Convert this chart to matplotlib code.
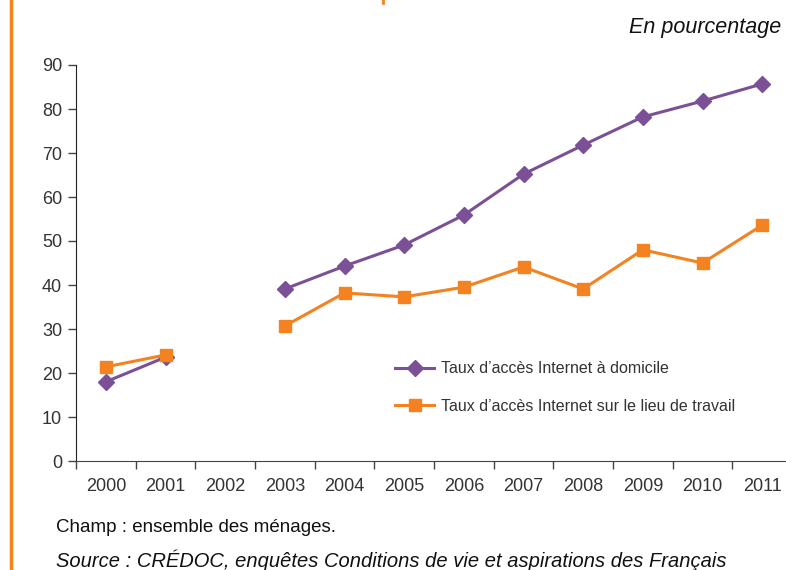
import numpy as np
import matplotlib.pyplot as plt

plt.rcParams['font.family'] = ['Liberation Sans', 'DejaVu Sans']

years = ['2000', '2001', '2002', '2003', '2004', '2005', '2006', '2007', '2008', '2009', '2010', '2011']
domicile = [18.0, 23.6, np.nan, 39.1, 44.3, 49.1, 55.9, 65.2, 71.8, 78.2, 81.8, 85.7]
travail = [21.4, 24.1, np.nan, 30.7, 38.2, 37.3, 39.5, 44.1, 39.1, 48.0, 45.0, 53.6]
labels = ["Taux d\u2019acc\u00e8s Internet \u00e0 domicile",
          "Taux d\u2019acc\u00e8s Internet sur le lieu de travail"]

purple = '#7B5096'
orange = '#F58220'
txt = '#333333'

fig = plt.figure(figsize=(7.86, 5.70), dpi=100)
W, H = 786, 570
ax = fig.add_axes([76 / W, 1 - 461 / H, (792 - 76) / W, (461 - 65) / H])

x = np.arange(len(years))
ax.plot(x, domicile, color=purple, lw=2.2, marker='D', ms=8.5, label=labels[0])
ax.plot(x, travail, color=orange, lw=2.2, marker='s', ms=8.5, label=labels[1])

ax.set_xlim(-0.5, len(years) - 0.5)
ax.set_ylim(0, 90)
ax.set_yticks(range(0, 91, 10))
ax.set_xticks(x)
ax.set_xticklabels(years)
ax.set_xticks(np.arange(-0.5, len(years), 1), minor=True)
ax.tick_params(axis='x', which='major', length=0, pad=12, labelsize=13, labelcolor=txt)
ax.tick_params(axis='x', which='minor', length=6, width=1, color='#444444')
ax.tick_params(axis='y', length=6, width=1, color='#444444', labelsize=13, labelcolor=txt, pad=4)

for s in ['top', 'right']:
    ax.spines[s].set_visible(False)
ax.spines['left'].set_color('#222222')
ax.spines['bottom'].set_color('#444444')

ax.legend(loc='upper left', bbox_to_anchor=((381 - 76) / (792 - 76), 1 - (347 - 65) / (461 - 65)),
          frameon=False, fontsize=11.5, labelspacing=1.4, handlelength=2.4, handletextpad=0.45,
          labelcolor=txt)

fig.text(781 / W, 1 - 27 / H, 'En pourcentage', ha='right', va='center',
         fontsize=15.5, style='italic', color='#111111')
fig.text(56 / W, 1 - 528 / H, 'Champ : ensemble des m\u00e9nages.', ha='left', va='center',
         fontsize=13.5, color='#111111')
fig.text(56 / W, 1 - 560 / H,
         'Source : CR\u00c9DOC, enqu\u00eates Conditions de vie et aspirations des Fran\u00e7ais',
         ha='left', va='center', fontsize=14.5, style='italic', color='#111111')

# orange rule on the left edge and bit of cropped title
fig.add_artist(plt.Line2D([11 / W, 11 / W], [0, 1], color=orange, lw=2.5))
fig.add_artist(plt.Line2D([383 / W, 383 / W], [1, 1 - 3 / H], color=orange, lw=2))

fig.savefig('out.png', dpi=100)
